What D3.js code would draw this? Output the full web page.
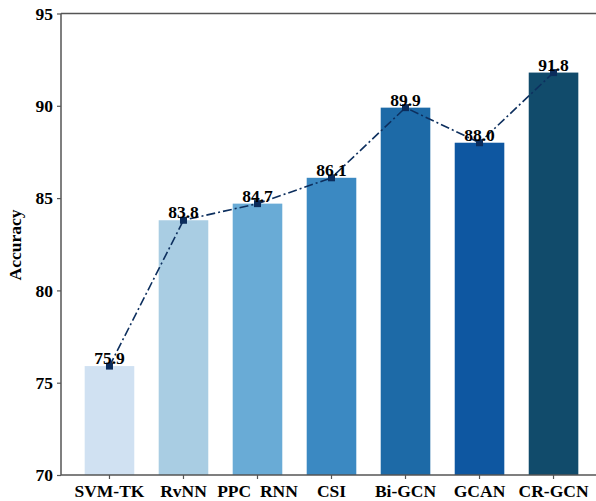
<!DOCTYPE html>
<html>
<head>
<meta charset="utf-8">
<script src="https://cdn.jsdelivr.net/npm/d3@7"></script>
<style>
  html, body { margin: 0; padding: 0; background: #fff; }
  svg text { font-family: "Liberation Serif", "Times New Roman", serif; font-weight: bold; white-space: pre; }
</style>
</head>
<body>
<svg id="chart" width="596" height="501"></svg>
<script>
// Model names and their accuracy scores
const categories = ["SVM-TK", "RvNN", "PPC  RNN", "CSI", "Bi-GCN", "GCAN", "CR-GCN"];
const accuracy = [75.9, 83.8, 84.7, 86.1, 89.9, 88.0, 91.8];
const barColors = ["#d0e1f2", "#a9cde3", "#69abd6", "#3b89c2", "#1d6aa7", "#0e57a1", "#114b6b"];
const yTicks = [70, 75, 80, 85, 90, 95];

const svg = d3.select("#chart");
const plotLeft = 61, plotTop = 13.5, plotBottom = 475, plotRight = 602;

const x = d3.scaleBand()
  .domain(categories)
  .range([plotLeft, plotRight])
  .paddingInner(0.33)
  .paddingOuter(0.32);

const y = d3.scaleLinear().domain([70, 95]).range([plotBottom, plotTop]);

// Bars
svg.append("g").selectAll("rect")
  .data(categories)
  .join("rect")
  .attr("x", d => x(d))
  .attr("width", x.bandwidth())
  .attr("y", (d, i) => y(accuracy[i]))
  .attr("height", (d, i) => y(70) - y(accuracy[i]))
  .attr("fill", (d, i) => barColors[i]);

// Top frame line runs off the right edge
svg.append("line")
  .attr("x1", plotLeft).attr("x2", 596).attr("y1", plotTop).attr("y2", plotTop)
  .attr("stroke", "#555").attr("stroke-width", 1.3);

// Axes
const yAxis = svg.append("g")
  .attr("transform", `translate(${plotLeft},0)`)
  .call(d3.axisLeft(y).tickValues(yTicks).tickSize(4).tickPadding(4).tickFormat(d3.format("d")));
const xAxis = svg.append("g")
  .attr("transform", `translate(0,${plotBottom})`)
  .call(d3.axisBottom(x).tickSize(4).tickPadding(6));

[xAxis, yAxis].forEach(g => {
  g.select(".domain").attr("stroke", "#555").attr("stroke-width", 1.5);
  g.selectAll(".tick line").attr("stroke", "#555").attr("stroke-width", 1.2);
  g.selectAll(".tick text")
    .attr("fill", "#000")
    .style("font-family", "'Liberation Serif', 'Times New Roman', serif")
    .style("font-weight", "bold")
    .style("font-size", "17.5px");
});
xAxis.select(".domain").attr("d", `M${plotLeft},0H596`);
yAxis.select(".domain").attr("d", `M0,${plotBottom}V${plotTop}`);

// Y axis title
svg.append("text")
  .attr("transform", `translate(21,245) rotate(-90)`)
  .attr("text-anchor", "middle")
  .style("font-size", "17.5px")
  .text("Accuracy");

// Trend line through bar tops
const cx = d => x(d) + x.bandwidth() / 2;
const line = d3.line()
  .x(d => cx(d))
  .y((d, i) => y(accuracy[i]));
svg.append("path")
  .datum(categories)
  .attr("d", line)
  .attr("fill", "none")
  .attr("stroke", "#0d2f5e")
  .attr("stroke-width", 1.6)
  .attr("stroke-dasharray", "9,3,2,3");

// Square markers
svg.append("g").selectAll("rect")
  .data(categories)
  .join("rect")
  .attr("x", d => cx(d) - 3.5)
  .attr("y", (d, i) => y(accuracy[i]) - 3.5)
  .attr("width", 7)
  .attr("height", 7)
  .attr("fill", "#0b2c5c");

// Value labels
svg.append("g").selectAll("text")
  .data(categories)
  .join("text")
  .attr("x", d => cx(d))
  .attr("y", (d, i) => y(accuracy[i]) - 2)
  .attr("text-anchor", "middle")
  .style("font-size", "17.5px")
  .attr("fill", "#000")
  .text((d, i) => accuracy[i].toFixed(1));
</script>
</body>
</html>
